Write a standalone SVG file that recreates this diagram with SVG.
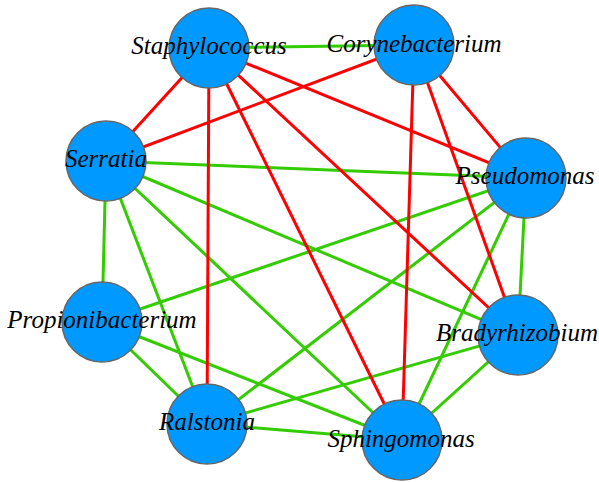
<svg xmlns="http://www.w3.org/2000/svg" width="599" height="482" viewBox="0 0 599 482">
<style>
.e{stroke-width:3;fill:none}
.r{stroke:#ff0000}
.g{stroke:#33cc00}
.n circle{fill:#0099ff;stroke:#666666;stroke-width:1.5}
.n text{font-family:"Liberation Serif","Times New Roman",serif;font-style:italic;font-size:25px;fill:#000;text-anchor:middle}
</style>
<rect width="599" height="482" fill="#ffffff"/>
<g id="connectors">
<line class="e g" x1="209" y1="48" x2="414" y2="45"/>
<line class="e g" x1="106" y1="161" x2="526" y2="178"/>
<line class="e g" x1="106" y1="161" x2="102" y2="322"/>
<line class="e g" x1="106" y1="161" x2="207" y2="424"/>
<line class="e g" x1="106" y1="161" x2="402" y2="440"/>
<line class="e g" x1="106" y1="161" x2="518" y2="335"/>
<line class="e g" x1="526" y1="178" x2="102" y2="322"/>
<line class="e g" x1="526" y1="178" x2="207" y2="424"/>
<line class="e g" x1="526" y1="178" x2="402" y2="440"/>
<line class="e g" x1="526" y1="178" x2="518" y2="335"/>
<line class="e g" x1="102" y1="322" x2="207" y2="424"/>
<line class="e g" x1="102" y1="322" x2="402" y2="440"/>
<line class="e g" x1="518" y1="335" x2="207" y2="424"/>
<line class="e g" x1="518" y1="335" x2="402" y2="440"/>
<line class="e g" x1="207" y1="424" x2="402" y2="440"/>
<line class="e r" x1="209" y1="48" x2="106" y2="161"/>
<line class="e r" x1="209" y1="48" x2="207" y2="424"/>
<line class="e r" x1="209" y1="48" x2="402" y2="440"/>
<line class="e r" x1="209" y1="48" x2="518" y2="335"/>
<line class="e r" x1="209" y1="48" x2="526" y2="178"/>
<line class="e r" x1="414" y1="45" x2="106" y2="161"/>
<line class="e r" x1="414" y1="45" x2="402" y2="440"/>
<line class="e r" x1="414" y1="45" x2="518" y2="335"/>
<line class="e r" x1="414" y1="45" x2="526" y2="178"/>
</g>
<g id="staphylococcus" class="n"><circle cx="209" cy="48" r="40"/><text x="209" y="54">Staphylococcus</text></g>
<g id="corynebacterium" class="n"><circle cx="414" cy="45" r="40"/><text x="414" y="52">Corynebacterium</text></g>
<g id="serratia" class="n"><circle cx="106" cy="161" r="40"/><text x="106" y="167">Serratia</text></g>
<g id="pseudomonas" class="n"><circle cx="526" cy="178" r="40"/><text x="525" y="184">Pseudomonas</text></g>
<g id="propionibacterium" class="n"><circle cx="102" cy="322" r="40"/><text x="102" y="328">Propionibacterium</text></g>
<g id="bradyrhizobium" class="n"><circle cx="518" cy="335" r="40"/><text x="517" y="341">Bradyrhizobium</text></g>
<g id="ralstonia" class="n"><circle cx="207" cy="424" r="40"/><text x="207" y="430">Ralstonia</text></g>
<g id="sphingomonas" class="n"><circle cx="402" cy="440" r="40"/><text x="401" y="447">Sphingomonas</text></g>
</svg>
